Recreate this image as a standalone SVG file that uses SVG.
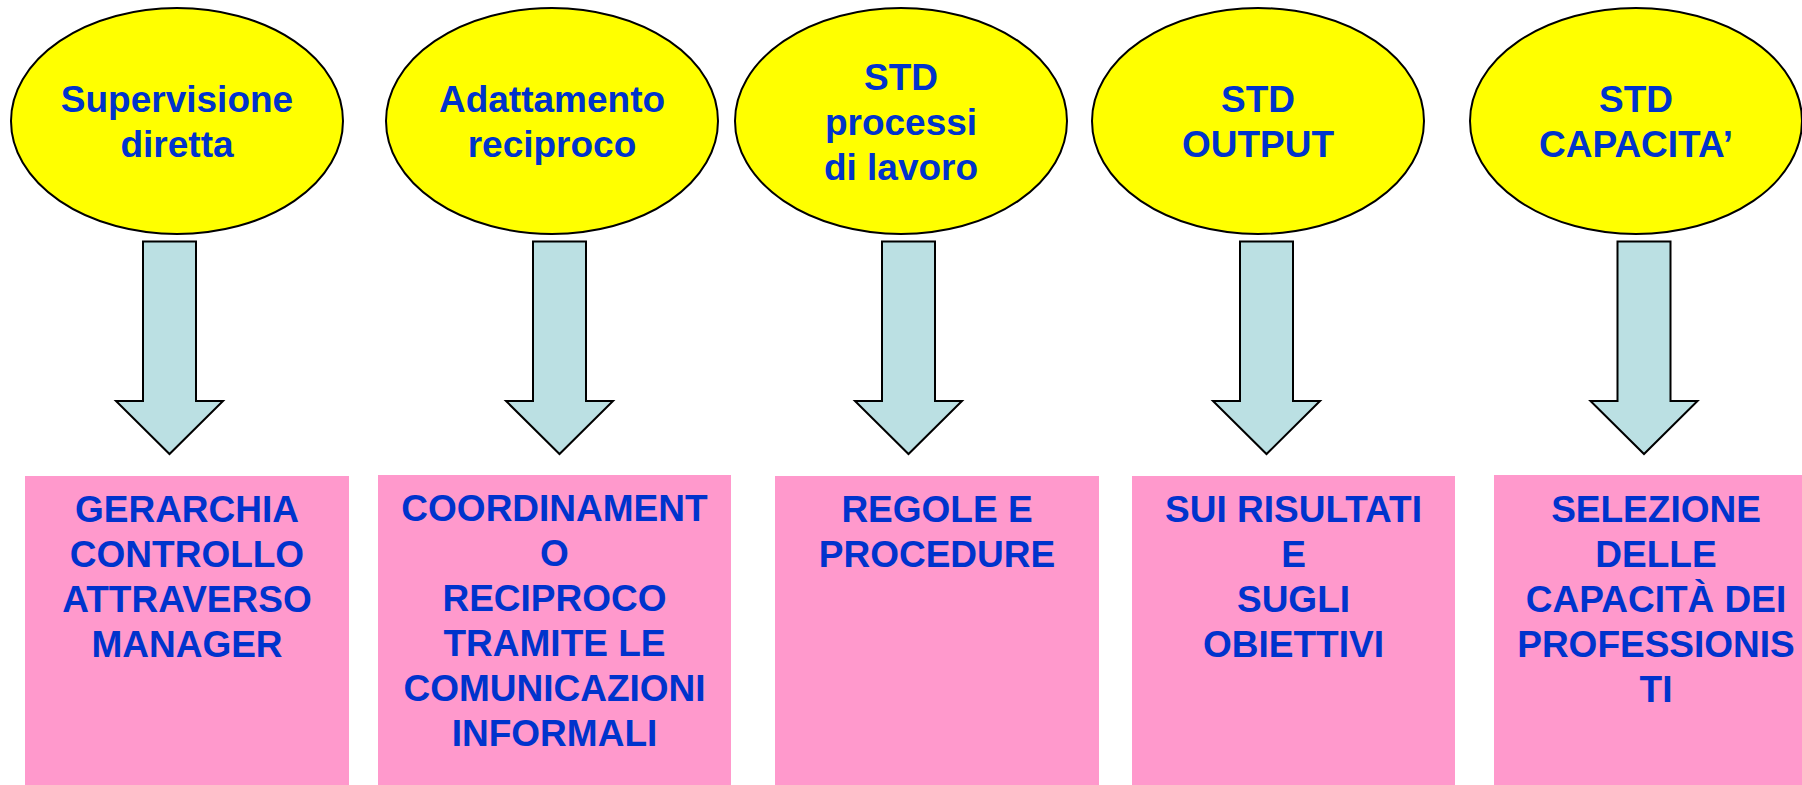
<svg xmlns="http://www.w3.org/2000/svg" width="1802" height="785" viewBox="0 0 1802 785">
<style>
.ell{fill:#FFFF00;stroke:#000;stroke-width:2}
.arr{fill:#BBE0E3;stroke:#000;stroke-width:2;stroke-linejoin:miter}
.box{fill:#FF99CC}
text{font-family:"Liberation Sans",Arial,sans-serif;font-weight:bold;font-size:37px;fill:#0033CC;text-anchor:middle}
</style>
<rect width="1802" height="785" fill="#fff"/>
<g id="n1"><ellipse class="ell" cx="177" cy="121" rx="166" ry="113"/><text x="177" y="112">Supervisione</text><text x="177" y="157">diretta</text></g>
<g id="n2"><ellipse class="ell" cx="552" cy="121" rx="166" ry="113"/><text x="552" y="112">Adattamento</text><text x="552" y="157">reciproco</text></g>
<g id="n3"><ellipse class="ell" cx="901" cy="121" rx="166" ry="113"/><text x="901" y="90">STD</text><text x="901" y="135">processi</text><text x="901" y="180">di lavoro</text></g>
<g id="n4"><ellipse class="ell" cx="1258" cy="121" rx="166" ry="113"/><text x="1258" y="112">STD</text><text x="1258" y="157">OUTPUT</text></g>
<g id="n5"><ellipse class="ell" cx="1636" cy="121" rx="166" ry="113"/><text x="1636" y="112">STD</text><text x="1636" y="157">CAPACITA’</text></g>
<g id="connectors">
<polygon class="arr" points="143,241.5 196,241.5 196,401 223,401 169.5,454 116,401 143,401"/>
<polygon class="arr" points="533,241.5 586,241.5 586,401 613,401 559.5,454 506,401 533,401"/>
<polygon class="arr" points="882,241.5 935,241.5 935,401 962,401 908.5,454 855,401 882,401"/>
<polygon class="arr" points="1240,241.5 1293,241.5 1293,401 1320,401 1266.5,454 1213,401 1240,401"/>
<polygon class="arr" points="1617.5,241.5 1670.5,241.5 1670.5,401 1697.5,401 1644,454 1590.5,401 1617.5,401"/>
</g>
<g id="b1"><rect class="box" x="25" y="476" width="324" height="309"/><text x="187" y="522">GERARCHIA</text><text x="187" y="567">CONTROLLO</text><text x="187" y="612">ATTRAVERSO</text><text x="187" y="657">MANAGER</text></g>
<g id="b2"><rect class="box" x="378" y="475" width="353" height="310"/><text x="554.5" y="521">COORDINAMENT</text><text x="554.5" y="566">O</text><text x="554.5" y="611">RECIPROCO</text><text x="554.5" y="656">TRAMITE LE</text><text x="554.5" y="701">COMUNICAZIONI</text><text x="554.5" y="746">INFORMALI</text></g>
<g id="b3"><rect class="box" x="775" y="476" width="324" height="309"/><text x="937" y="522">REGOLE E</text><text x="937" y="567">PROCEDURE</text></g>
<g id="b4"><rect class="box" x="1132" y="476" width="323" height="309"/><text x="1293.5" y="522">SUI RISULTATI</text><text x="1293.5" y="567">E</text><text x="1293.5" y="612">SUGLI</text><text x="1293.5" y="657">OBIETTIVI</text></g>
<g id="b5"><rect class="box" x="1494" y="475" width="308" height="310"/><text x="1656" y="522">SELEZIONE</text><text x="1656" y="567">DELLE</text><text x="1656" y="612">CAPACITÀ DEI</text><text x="1656" y="657">PROFESSIONIS</text><text x="1656" y="702">TI</text></g>
</svg>
